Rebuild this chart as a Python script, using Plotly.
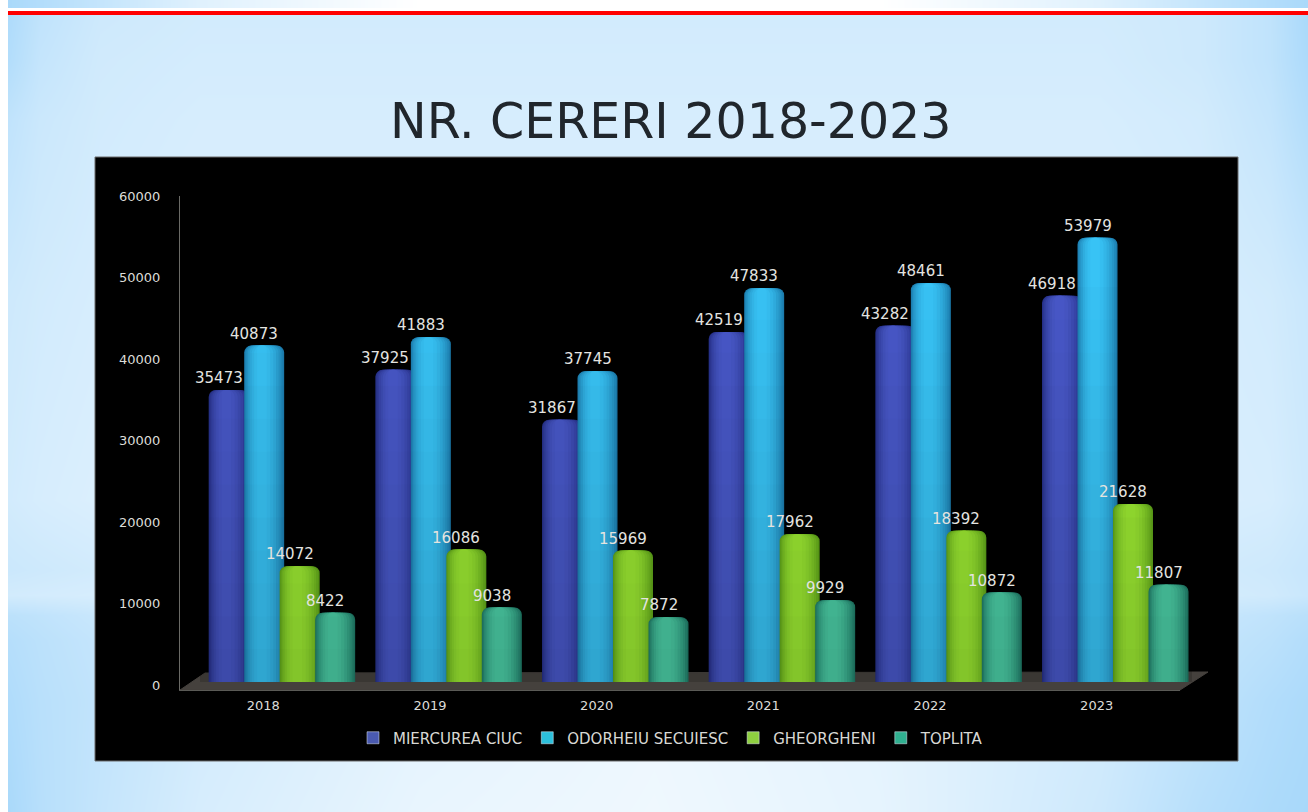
import plotly.graph_objects as go

TITLE = "NR. CERERI 2018-2023"
years = ["2018", "2019", "2020", "2021", "2022", "2023"]
miercurea_ciuc = [35473, 37925, 31867, 42519, 43282, 46918]
odorheiu_secuiesc = [40873, 41883, 37745, 47833, 48461, 53979]
gheorgheni = [14072, 16086, 15969, 17962, 18392, 21628]
toplita = [8422, 9038, 7872, 9929, 10872, 11807]
y_ticks = [0, 10000, 20000, 30000, 40000, 50000, 60000]

series_names = ["MIERCUREA CIUC", "ODORHEIU SECUIESC", "GHEORGHENI", "TOPLITA"]
series_values = [miercurea_ciuc, odorheiu_secuiesc, gheorgheni, toplita]
edge_colors = [(38, 48, 135), (28, 125, 175), (95, 165, 25), (32, 125, 105)]
core_colors = [(72, 88, 200), (56, 195, 245), (155, 232, 50), (75, 205, 165)]
legend_colors = ["#4a5ab0", "#2cc0dc", "#8fd040", "#30b090"]

# soft backdrop of the slide (decoration)
bg_x = [8, 40, 100, 200, 420, 654, 880, 1100, 1200, 1270, 1308]
bg_y = [0, 8, 15, 60, 120, 300, 500, 570, 595, 615, 640, 700, 812]
bg_z = [
    [0.05, 0.15, 0.35, 0.65, 1.0, 1.0, 1.0, 0.65, 0.35, 0.15, 0.05],
    [0.05, 0.15, 0.35, 0.65, 1.0, 1.0, 1.0, 0.65, 0.35, 0.15, 0.05],
    [0.10, 0.30, 0.45, 0.50, 0.50, 0.50, 0.50, 0.50, 0.45, 0.30, 0.05],
    [0.15, 0.35, 0.48, 0.52, 0.52, 0.52, 0.52, 0.52, 0.45, 0.30, 0.08],
    [0.30, 0.42, 0.50, 0.55, 0.55, 0.55, 0.55, 0.55, 0.50, 0.35, 0.15],
    [0.45, 0.50, 0.55, 0.60, 0.60, 0.60, 0.60, 0.60, 0.55, 0.50, 0.40],
    [0.50, 0.55, 0.60, 0.60, 0.60, 0.60, 0.60, 0.60, 0.58, 0.55, 0.45],
    [0.42, 0.45, 0.50, 0.55, 0.55, 0.55, 0.55, 0.55, 0.50, 0.45, 0.38],
    [0.50, 0.52, 0.55, 0.55, 0.55, 0.55, 0.55, 0.55, 0.52, 0.48, 0.40],
    [0.25, 0.30, 0.40, 0.50, 0.55, 0.55, 0.55, 0.50, 0.40, 0.30, 0.22],
    [0.18, 0.25, 0.35, 0.50, 0.55, 0.55, 0.55, 0.50, 0.35, 0.25, 0.15],
    [0.12, 0.22, 0.32, 0.50, 0.70, 0.80, 0.70, 0.50, 0.30, 0.15, 0.08],
    [0.05, 0.20, 0.35, 0.55, 0.75, 0.82, 0.72, 0.45, 0.20, 0.08, 0.03],
]

W, H = 1308, 812
PLOT_L, PLOT_R, PLOT_T, PLOT_B = 180, 1180, 196, 690
BARS_R = 1200


def mix(a, b, t):
    return "rgb(%d,%d,%d)" % tuple(round(a[i] + (b[i] - a[i]) * t) for i in range(3))


fig = go.Figure()

# backdrop axes use page pixels
fig.add_trace(go.Heatmap(x=bg_x, y=bg_y, z=bg_z, zmin=0, zmax=1, zsmooth="best", showscale=False,
                         colorscale=[[0, "rgb(165,215,250)"], [1, "rgb(255,255,255)"]],
                         hoverinfo="skip", xaxis="x", yaxis="y"))
fig.add_trace(go.Heatmap(x=[95, 1238], y=[157, 761], z=[[0]], showscale=False,
                         colorscale=[[0, "#000000"], [1, "#000000"]], hoverinfo="skip", xaxis="x", yaxis="y"))
fig.add_trace(go.Scatter(x=[95, 1238, 1238, 95, 95], y=[157, 157, 761, 761, 157], mode="lines",
                         line=dict(color="#6a6a6a", width=1), hoverinfo="skip", showlegend=False,
                         xaxis="x", yaxis="y"))
fig.add_trace(go.Scatter(x=[180, 205, 1208, 1180, 180], y=[690, 673, 672, 690, 690], mode="lines", fill="toself",
                         fillcolor="#45413d", line=dict(color="#45413d", width=1), hoverinfo="skip",
                         showlegend=False, xaxis="x", yaxis="y"))

# visible value axis and year axis (ticks only; empty trace keeps the axes alive)
fig.add_trace(go.Bar(x=years, y=[0] * 6, showlegend=False, hoverinfo="skip", xaxis="x2", yaxis="y2",
                     marker=dict(color="rgba(0,0,0,0)", line_width=0)))

# bars
BAR_W, BAR_STEP, BAR_START = 0.24, 0.213, -0.438
nest = [(1.0, 0.0), (0.94, 0.18), (0.86, 0.36), (0.77, 0.52), (0.66, 0.68), (0.54, 0.82), (0.40, 0.93), (0.24, 1.0)]
for i, (name, vals) in enumerate(zip(series_names, series_values)):
    left = BAR_START + i * BAR_STEP
    for j, (frac, t) in enumerate(nest):
        w = BAR_W * frac
        fig.add_trace(go.Bar(
            x=years, y=vals, width=w, offset=left + (BAR_W - w) / 2 - 0.002 * j,
            marker=dict(color=mix(edge_colors[i], core_colors[i], t), cornerradius=7, line_width=0),
            name=name, legendgroup=name, showlegend=False, hoverinfo="skip", xaxis="x3", yaxis="y3"))
    # legend key
    fig.add_trace(go.Bar(x=[None], y=[None], name=name, legendgroup=name, marker_color=legend_colors[i],
                         hoverinfo="skip", xaxis="x3", yaxis="y3"))

# vertical fade on the bars
shapes = []
bands = 12
for b in range(bands):
    shapes.append(dict(type="rect", layer="above", xref="paper", yref="y3", x0=200 / W, x1=1192 / W,
                       y0=b * 4000, y1=(b + 1) * 4000, line_width=0,
                       fillcolor="rgba(0,0,0,%.3f)" % (0.15 * (1 - b / bands))))
# top strip and rule of the slide
shapes.append(dict(type="rect", layer="above", xref="paper", yref="paper", x0=0, x1=8 / W, y0=0, y1=1,
                   line_width=0, fillcolor="#ffffff"))
shapes.append(dict(type="rect", layer="above", xref="paper", yref="paper", x0=8 / W, x1=1, y0=1 - 11 / H, y1=1 - 8 / H,
                   line_width=0, fillcolor="#ffffff"))
shapes.append(dict(type="rect", layer="above", xref="paper", yref="paper", x0=8 / W, x1=1, y0=1 - 15 / H, y1=1 - 11 / H,
                   line_width=0, fillcolor="#ff0000"))

annotations = [dict(text=TITLE, xref="paper", yref="paper", x=670 / W, y=1 - 122 / H, showarrow=False,
                    font=dict(family="DejaVu Sans", size=49, color="#20262c"), xanchor="center", yanchor="middle")]
for i, vals in enumerate(series_values):
    left = BAR_START + i * BAR_STEP
    for k, v in enumerate(vals):
        annotations.append(dict(text=str(v), x=k + left + BAR_W / 2, y=v, xref="x3", yref="y3", showarrow=False,
                                xshift=-10, yshift=12, xanchor="center", yanchor="middle",
                                font=dict(family="DejaVu Sans", size=15, color="#e4e4e0")))

dom_x = [PLOT_L / W, PLOT_R / W]
dom_y = [1 - PLOT_B / H, 1 - PLOT_T / H]
cat_px = (PLOT_R - PLOT_L) / 6
bars_lo = -0.61
fig.update_layout(
    width=W, height=H, margin=dict(l=0, r=0, t=0, b=0), autosize=False,
    paper_bgcolor="#ffffff", plot_bgcolor="rgba(0,0,0,0)", barmode="overlay",
    shapes=shapes, annotations=annotations,
    xaxis=dict(domain=[8 / W, 1], range=[8, 1308], visible=False, fixedrange=True),
    yaxis=dict(domain=[0, 1], range=[812, 0], visible=False, fixedrange=True),
    xaxis2=dict(domain=dom_x, anchor="y2", type="category", range=[-0.5, 5.5], showline=True, linecolor="#5a5a56",
                linewidth=1, showgrid=False, ticks="outside", ticklen=3, tickcolor="rgba(0,0,0,0)", zeroline=False,
                automargin=False, tickfont=dict(family="DejaVu Sans", size=13, color="#dcdcd8")),
    yaxis2=dict(domain=dom_y, anchor="x2", range=[-613, 60000], tickvals=y_ticks, tickformat="d", showline=True,
                linecolor="#6a6a66", linewidth=1, showgrid=False, zeroline=False, ticks="outside", ticklen=16,
                tickcolor="rgba(0,0,0,0)", automargin=False,
                tickfont=dict(family="DejaVu Sans", size=13, color="#dcdcd8")),
    xaxis3=dict(domain=[PLOT_L / W, BARS_R / W], anchor="y3", type="category",
                range=[bars_lo, bars_lo + (BARS_R - PLOT_L) / cat_px], visible=False),
    yaxis3=dict(domain=dom_y, anchor="x3", range=[-972, 59049], visible=False),
    legend=dict(orientation="h", x=353 / W, y=1 - 738 / H, xanchor="left", yanchor="middle",
                bgcolor="rgba(0,0,0,0)", font=dict(family="DejaVu Sans", size=15, color="#d8d8d4"),
                traceorder="normal", itemwidth=30),
)
fig.write_html("out.html", config=dict(displayModeBar=False), post_script="""
document.documentElement.style.cssText='margin:0;padding:0;overflow:hidden;height:812px';
document.body.style.cssText='margin:0;padding:0;overflow:hidden;height:812px';
var g=document.getElementById('{plot_id}');
g.style.position='fixed';g.style.left='0';g.style.top='0';
""")
